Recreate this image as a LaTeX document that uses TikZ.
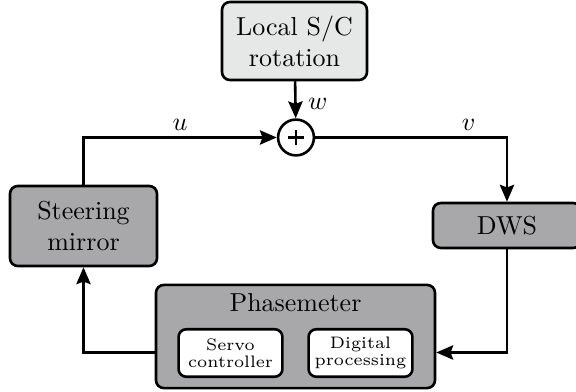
\documentclass[tikz,border=0pt]{standalone}
\usetikzlibrary{arrows.meta}
\definecolor{blockgray}{RGB}{168,168,170}
\definecolor{palegray}{RGB}{230,231,231}
\tikzset{
  block/.style={draw, line width=1pt, rounded corners=3pt, fill=blockgray, align=center, inner sep=0pt},
  subblock/.style={block, fill=white, font=\fontsize{6.4}{6.7}\selectfont, minimum width=40pt, minimum height=18.3pt},
  sumnode/.style={draw, circle, line width=1pt, minimum size=13.8pt, inner sep=0pt,
    path picture={
      \draw[line width=0.9pt] ([xshift=-3pt]path picture bounding box.center) -- ([xshift=3pt]path picture bounding box.center);
      \draw[line width=0.9pt] ([yshift=-3pt]path picture bounding box.center) -- ([yshift=3pt]path picture bounding box.center);
    }},
  sig/.style={line width=1pt, -{Stealth[length=6.5pt,width=5.5pt,inset=1pt]}},
}
\begin{document}
\begin{tikzpicture}[x=0.385pt, y=-0.385pt]
  \useasboundingbox (0,0) rectangle (576,392);
  % blocks
  \node[block, fill=palegray, minimum width=55.8pt, minimum height=30pt] (local) at (294.5,41) {Local S/C\\rotation};
  \node[sumnode] (sum) at (296,137.5) {};
  \node[block, minimum width=56.6pt, minimum height=30.8pt] (mirror) at (83.5,226) {Steering\\mirror};
  \node[block, minimum width=57pt, minimum height=17.3pt] (dws) at (507,225.5) {DWS};
  \node[block, minimum width=107.4pt, minimum height=39.7pt] (pm) at (295.5,336.5) {};
  \node (pmlabel) at (295.5,303) {Phasemeter};
  \node[subblock] (servo) at (230.5,353) {Servo\\controller};
  \node[subblock] (digital) at (360.5,353) {Digital\\processing};
  % signals
  \draw[sig] (local) -- node[right, pos=0.62, xshift=1pt] {$w$} (sum);
  \draw[sig] (mirror.north) |- node[above, pos=0.75, yshift=-1pt] {$u$} (sum.west);
  \draw[sig] (sum.east) -| node[above, pos=0.4, yshift=-1pt] {$v$} (dws.north);
  \draw[sig] (dws.south) |- (pm.east |- 0,352.5);
  \draw[sig] (pm.west |- 0,352.5) -| (mirror.south);
\end{tikzpicture}
\end{document}
